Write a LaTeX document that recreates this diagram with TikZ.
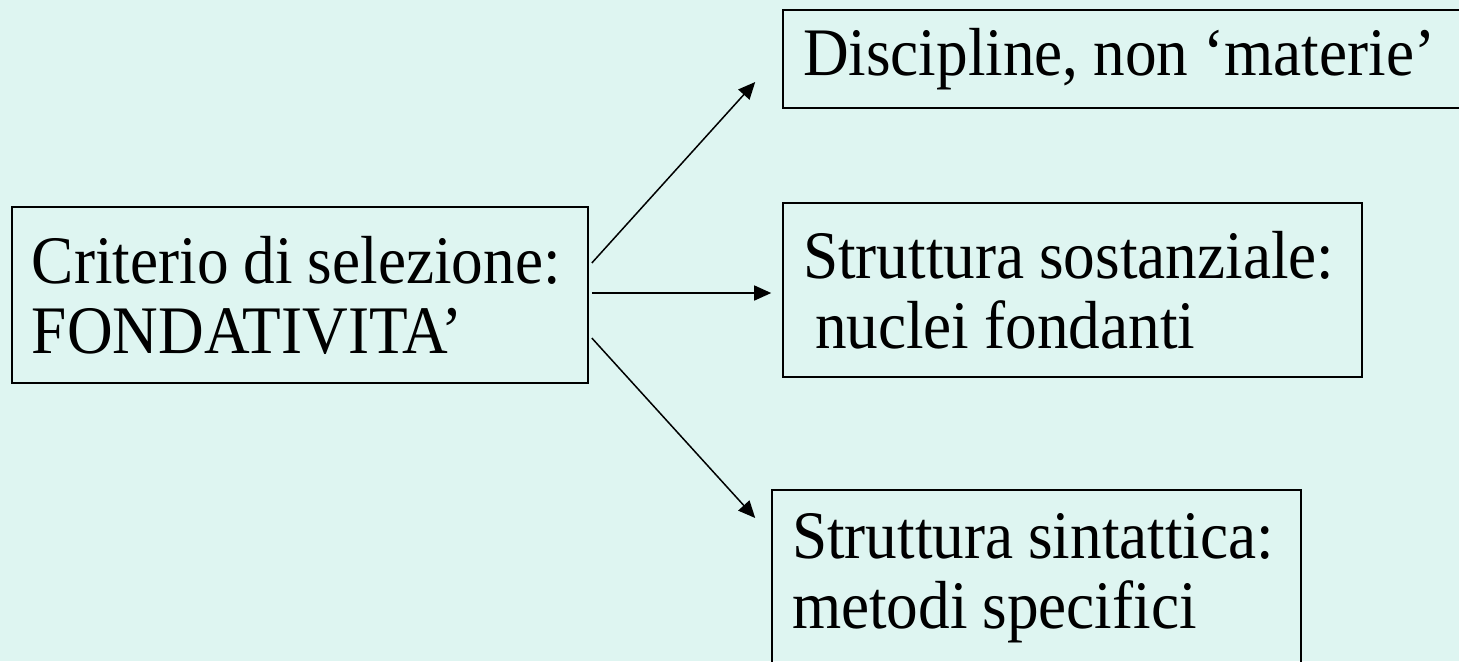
\documentclass[tikz,border=0pt]{standalone}
\usepackage{fontspec}
\setmainfont{Liberation Serif}[FakeStretch=0.93]
\usetikzlibrary{arrows.meta}
\definecolor{slidemint}{RGB}{222,245,241}

\begin{document}
\begin{tikzpicture}[x=0.5pt, y=-0.5pt]
		\fill[slidemint] (0,0) rectangle (1459,661);
		\useasboundingbox (0,0) rectangle (1459,661);
		\clip (0,0) rectangle (1459,661);
		\begin{scope}[every node/.style={rectangle,draw,line width=0.8pt,align=left,inner xsep=10pt,inner ysep=0pt,font=\fontsize{34}{35}\selectfont,execute at begin node={\spaceskip=0.22em\relax}}]
			\node[text width=268pt, minimum height=88pt] (crit) at (300,295) {\mbox{Criterio di selezione:}\\FONDATIVITA’};
			\node[text width=318.5pt, minimum height=49pt] (disc) at (1121.5,59) {\mbox{Discipline, non ‘materie’}};
			\node[text width=269.5pt, minimum height=87pt] (sost) at (1072.5,290) {\mbox{Struttura sostanziale:}\\\hspace*{6pt}\mbox{nuclei fondanti}};
			\node[text width=244.5pt, minimum height=88pt] (sint) at (1036.5,578) {\mbox{Struttura sintattica:}\\\mbox{metodi specifici}};
		\end{scope}
		\begin{scope}[every path/.style={line width=0.75pt,-{Triangle[length=8.5pt,width=7.5pt]}}]
			\draw ([shift={(1.5pt,16pt)}]crit.east) -- ([shift={(-13.5pt,-11.5pt)}]disc.west);
			\draw ([shift={(1.5pt,1pt)}]crit.east) -- ([shift={(-5.5pt,-1.5pt)}]sost.west);
			\draw ([shift={(1.5pt,-21.5pt)}]crit.east) -- ([shift={(-8pt,30pt)}]sint.west);
		\end{scope}
	\end{tikzpicture}
\end{document}
